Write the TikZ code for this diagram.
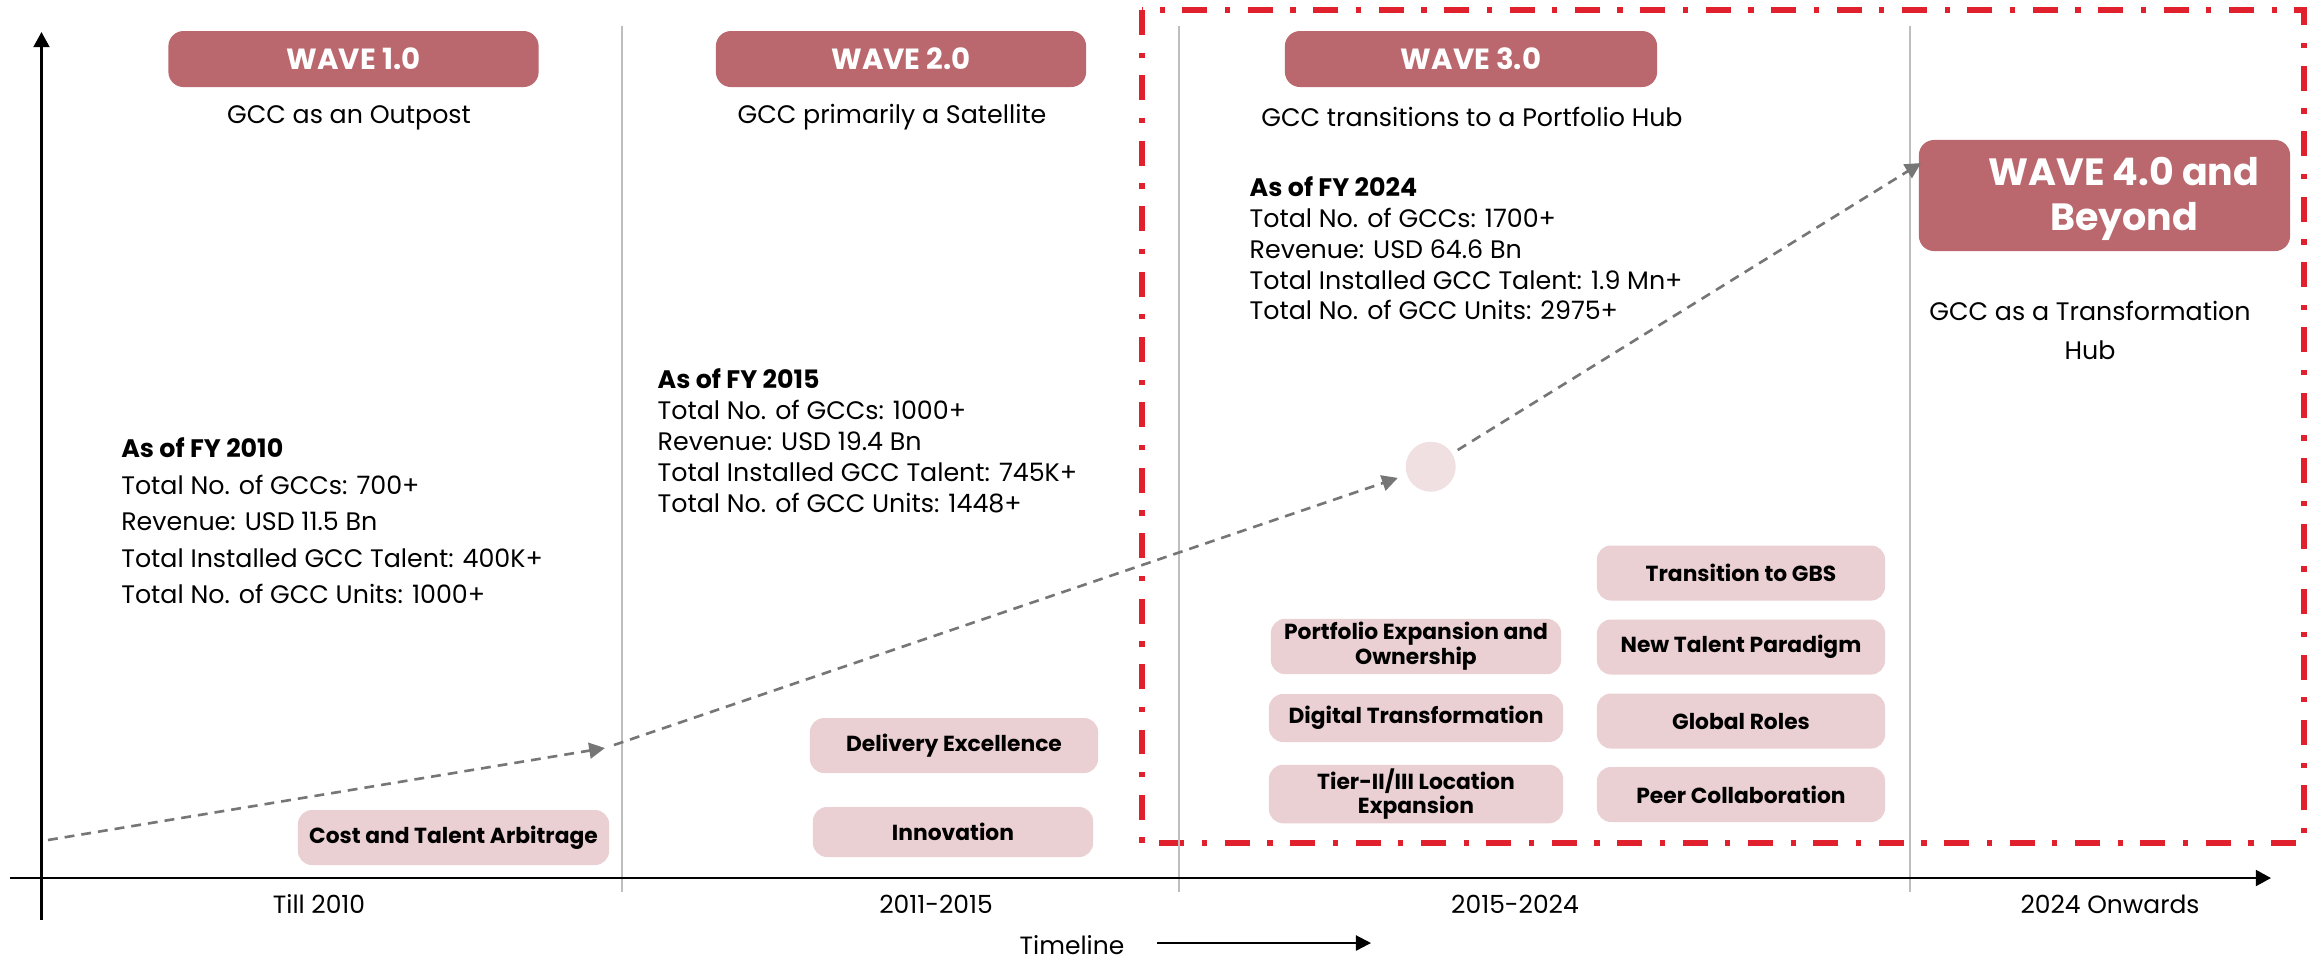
\documentclass[tikz,border=0pt]{standalone}
\usepackage{fontspec}
\setmainfont{Poppins}
\usetikzlibrary{arrows.meta}

\definecolor{wavered}{RGB}{186,104,109}
\definecolor{tagpink}{RGB}{234,208,211}
\definecolor{hubpink}{RGB}{241,224,226}
\definecolor{boxred}{RGB}{224,32,44}
\definecolor{trendgray}{RGB}{118,118,118}
\definecolor{sepgray}{RGB}{190,190,190}

\tikzset{
  wavebox/.style={fill=wavered,rounded corners=4.3pt,minimum width=3.7cm,minimum height=0.56cm,text=white,font=\fontsize{8.3}{10}\selectfont\bfseries},
  wavebig/.style={text=white,align=center,inner sep=0pt,font=\fontsize{10.8}{12.8}\selectfont\bfseries},
  wavesub/.style={align=center,font=\fontsize{7.2}{11.1}\selectfont},
  info/.style={anchor=west,align=left,inner sep=0pt},
  tagbox/.style={fill=tagpink,rounded corners=4pt,minimum width=2.88cm,minimum height=0.55cm,inner sep=1pt,align=center,font=\fontsize{6.2}{7.1}\selectfont\bfseries},
  sepline/.style={sepgray,line width=0.3pt},
  axis/.style={line width=0.7pt,-{Triangle[length=4.3pt,width=4.5pt]}},
  trend/.style={trendgray,line width=0.75pt,dash pattern=on 2.8pt off 2pt,-{Triangle[length=4.5pt,width=4.5pt]}},
  period/.style={inner sep=0pt,font=\fontsize{7.1}{8}\selectfont}
}

\begin{document}
\begin{tikzpicture}[x=0.01cm,y=-0.01cm]
\useasboundingbox (0,0) rectangle (2315,959);
%wave 3 frame
\draw[boxred,line width=1.7pt,dash pattern=on 7.1pt off 5pt on 1.5pt off 5pt] (1142,10) rectangle (2304,843);
%separators
\foreach \x in {622,1179,1910} {
	\draw[sepline] (\x,26) -- (\x,892); }
%axes
\draw[axis] (41.5,920) -- (41.5,32);
\draw[axis] (10,878) -- (2271,878);
\node[period] (p1) at (319,904) {Till 2010};
\node[period] (p2) at (936,904) {2011-2015};
\node[period] (p3) at (1515,904) {2015-2024};
\node[period] (p4) at (2110,904) {2024 Onwards};
\node[period] (tl) at (1072,945) {Timeline};
\draw[line width=0.6pt,-{Triangle[length=4.3pt,width=4.3pt]}] ([xshift=0.32cm,yshift=0.02cm]tl.east) -- ++(214,0);
%waves
\node[wavebox] (w1) at (353.5,59) {WAVE 1.0};
\node[wavebox] (w2) at (901,59) {WAVE 2.0};
\node[wavebox,minimum width=3.72cm] (w3) at (1471,59) {WAVE 3.0};
\node[wavebox,minimum width=3.71cm,minimum height=1.11cm] (w4) at (2104.5,195.5) {};
\node[wavebig] (w4t) at (2124,199) {WAVE 4.0 and\\Beyond};
\node[wavesub] (s1) at (349,118) {GCC as an Outpost};
\node[wavesub] (s2) at (892,117) {GCC primarily a Satellite};
\node[wavesub] (s3) at (1472,117) {GCC transitions to a Portfolio Hub};
\node[wavesub] (s4) at (2090,330) {GCC as a Transformation\\Hub};
%figures
\node[info,font=\fontsize{7.2}{10.4}\selectfont] (fy10) at (120.6,521) {\textbf{As of FY 2010}\\Total No. of GCCs: 700+\\Revenue: USD 11.5 Bn\\Total Installed GCC Talent: 400K+\\Total No. of GCC Units: 1000+};
\node[info,font=\fontsize{7.2}{8.8}\selectfont] (fy15) at (657,441) {\textbf{As of FY 2015}\\Total No. of GCCs: 1000+\\Revenue: USD 19.4 Bn\\Total Installed GCC Talent: 745K+\\Total No. of GCC Units: 1448+};
\node[info,font=\fontsize{7.2}{8.75}\selectfont] (fy24) at (1249,248.5) {\textbf{As of FY 2024}\\Total No. of GCCs: 1700+\\Revenue: USD 64.6 Bn\\Total Installed GCC Talent: 1.9 Mn+\\Total No. of GCC Units: 2975+};
%trend
\node[circle,fill=hubpink,minimum size=0.5cm,inner sep=0pt] (hub) at (1430.7,466.7) {};
\coordinate (t0) at (48,840);
\coordinate (t1) at (605,748);
\coordinate (t2) at (614,745);
\coordinate (t3) at (1921,163);
\draw[trend] (t0) -- (t1);
\draw[trend,shorten >=0.09cm] (t2) -- (hub);
\draw[trend,shorten <=0.06cm] (hub) -- (t3);
%tags
\node[tagbox,minimum width=3.11cm] (cost) at (453.5,837.5) {Cost and Talent Arbitrage};
\node[tagbox] (delivery) at (954,745.5) {Delivery Excellence};
\node[tagbox,minimum width=2.8cm,minimum height=0.5cm] (innov) at (953,832) {Innovation};
\node[tagbox] (gbs) at (1741,573) {Transition to GBS};
\node[tagbox] (talent) at (1741,647) {New Talent Paradigm};
\node[tagbox] (global) at (1741,721) {Global Roles};
\node[tagbox] (peer) at (1741,794.5) {Peer Collaboration};
\node[tagbox,minimum width=2.9cm] (portf) at (1416,646.5) {Portfolio Expansion and\\Ownership};
\node[tagbox,minimum width=2.94cm,minimum height=0.48cm] (digital) at (1416,718) {Digital Transformation};
\node[tagbox,minimum width=2.94cm,minimum height=0.56cm] (tier) at (1416,794) {Tier-II/III Location\\Expansion};
\end{tikzpicture}
\end{document}
